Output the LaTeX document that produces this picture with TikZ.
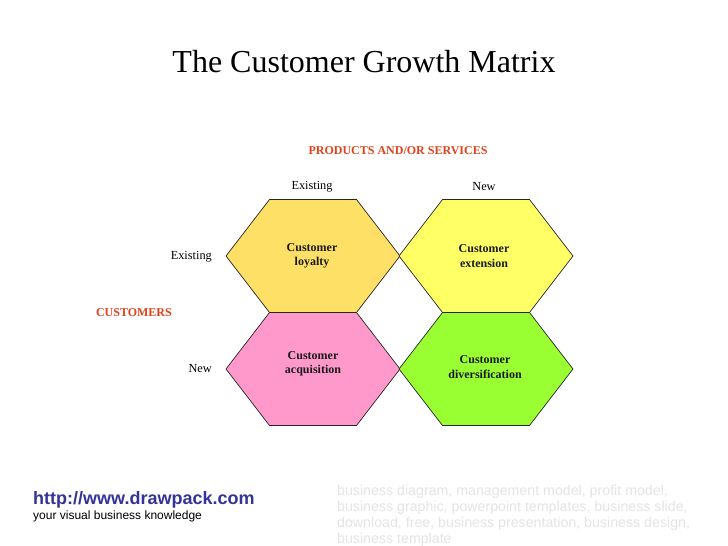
\documentclass[tikz,border=0pt]{standalone}
\usepackage{fontspec}
\setmainfont{Liberation Serif}
\newfontfamily\arialf{Liberation Sans}
\definecolor{hexA}{HTML}{FFE066}
\definecolor{hexB}{HTML}{FFFF66}
\definecolor{hexC}{HTML}{FF99CC}
\definecolor{hexD}{HTML}{99FF33}
\definecolor{axred}{HTML}{E0431B}
\definecolor{linkblue}{HTML}{333399}
\definecolor{faint}{HTML}{E4E4E4}
\tikzset{
  x=1pt, y=-1pt,
  hexa/.pic={\draw[line width=0.7pt, draw=black!85, fill=#1]
     (-87,0) -- (-43.5,-56.5) -- (43.5,-56.5) -- (87,0) -- (43.5,56.5) -- (-43.5,56.5) -- cycle;},
  hextext/.style={font=\fontsize{12}{14.5}\selectfont\bfseries, align=center, text=black!90},
  axlabel/.style={font=\fontsize{12}{14}\selectfont\bfseries, text=axred},
  valabel/.style={font=\fontsize{12.3}{14}\selectfont},
}
\begin{document}
\begin{tikzpicture}
\useasboundingbox[fill=white] (0,0) rectangle (728,546);
\node[font=\fontsize{32}{36}\selectfont, anchor=base] (title) at (364,72) {The Customer Growth Matrix};
\node[axlabel] (prod) at (398,151) {PRODUCTS AND/OR SERVICES};
\node[axlabel, anchor=east, inner sep=0pt] (cust) at (172,313) {CUSTOMERS};
\node[valabel] (pex) at (312,187) {Existing};
\node[valabel] (pnew) at (484,187) {New};
\node[valabel, anchor=east, inner sep=0pt] (cex) at (212,257) {Existing};
\node[valabel, anchor=east, inner sep=0pt] (cnew) at (212,369) {New};
\pic at (313,256) {hexa=hexA};
\pic at (486,256) {hexa=hexB};
\pic at (313,369) {hexa=hexC};
\pic at (486,369) {hexa=hexD};
\node[hextext] (loy) at (312,256) {Customer\\loyalty};
\node[hextext] (ext) at (484,256) {Customer\\extension};
\node[hextext] (acq) at (313,364) {Customer\\acquisition};
\node[hextext] (div) at (485,367) {Customer\\diversification};
\node[anchor=base west, font=\arialf\fontsize{18}{20}\selectfont\bfseries, text=linkblue, inner sep=0pt] (url) at (33,504) {http://www.drawpack.com};
\node[anchor=base west, font=\arialf\fontsize{12}{14}\selectfont, inner sep=0pt] (tag) at (33,519) {your visual business knowledge};
\node[anchor=north west, align=left, inner sep=0pt, text=faint, font=\arialf\fontsize{14.2}{16}\selectfont] (kw) at (337,485.5) {business diagram, management model, profit model,\\business graphic, powerpoint templates, business slide,\\download, free, business presentation, business design,\\business template};
\end{tikzpicture}
\end{document}
